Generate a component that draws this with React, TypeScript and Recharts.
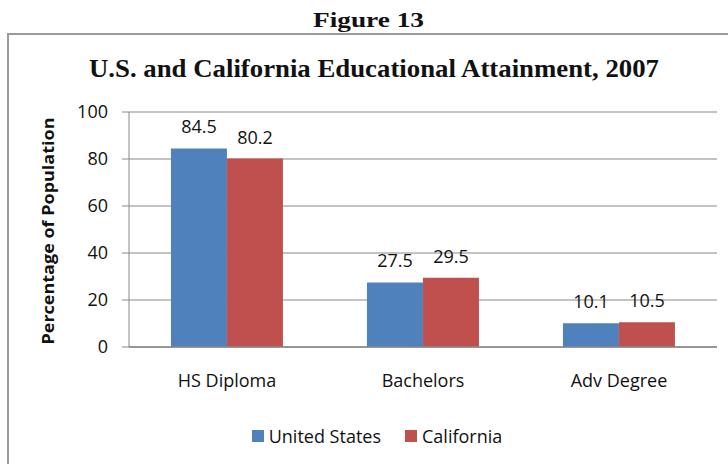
import React from "react";
import { BarChart, Bar, XAxis, YAxis, CartesianGrid, Legend, LabelList } from "recharts";

const categories = ["HS Diploma", "Bachelors", "Adv Degree"];
const unitedStates = [84.5, 27.5, 10.1];
const california = [80.2, 29.5, 10.5];
const yTicks = [0, 20, 40, 60, 80, 100];
const seriesNames = ["United States", "California"];
const colors = ["#4F81BD", "#C0504D"];

const data = categories.map((c, i) => ({ name: c, us: unitedStates[i], ca: california[i] }));

const FONT = "'Open Sans', sans-serif";

const renderLegend = () => {
  return (
    <div style={{ display: "flex", justifyContent: "center", alignItems: "center", fontFamily: FONT, fontSize: 18, color: "#111", height: 24 }}>
      {seriesNames.map((n, i) => (
        <div key={i} style={{ display: "flex", alignItems: "center", marginRight: i === 0 ? 24 : 0 }}>
          <span style={{ display: "inline-block", width: 12, height: 12, background: colors[i], marginRight: 5 }} />
          <span>{n}</span>
        </div>
      ))}
    </div>
  );
};

export default function App() {
  return (
    <div style={{ position: "absolute", left: 0, top: 0, width: 728, height: 464, background: "#fff", overflow: "hidden" }}>
      <div style={{ position: "absolute", left: 7, top: 33, width: 800, height: 500, border: "2px solid #9a9a9a", boxSizing: "border-box" }} />
      <svg style={{ position: "absolute", left: 0, top: 0 }} width={728} height={464}>
        <text x={313} y={27} textLength={111} lengthAdjust="spacingAndGlyphs" fontFamily="'Liberation Serif', serif" fontWeight="bold" fontSize={22} fill="#111">Figure 13</text>
        <text x={89} y={77} textLength={570} lengthAdjust="spacingAndGlyphs" fontFamily="'Liberation Serif', serif" fontWeight="bold" fontSize={25} fill="#111">U.S. and California Educational Attainment, 2007</text>
        <text transform="translate(54,231) rotate(-90)" textAnchor="middle" textLength={227} lengthAdjust="spacingAndGlyphs" fontFamily={FONT} fontWeight="bold" fontSize={16} fill="#111">Percentage of Population</text>
      </svg>
      <div style={{ position: "absolute", left: 0, top: 0 }}>
        <BarChart width={728} height={464} data={data} margin={{ top: 112, right: 11, bottom: 63, left: 0 }} barCategoryGap="21.4%" barGap={0}>
          <CartesianGrid vertical={false} stroke="#888" strokeWidth={1} />
          <XAxis dataKey="name" tickLine={false} tickSize={0} tickMargin={27} axisLine={{ stroke: "#888", strokeWidth: 1.5 }} tick={{ fontFamily: FONT, fontSize: 18, fill: "#111" }} />
          <YAxis width={129} domain={[0, 100]} ticks={yTicks} tickSize={7} tickMargin={14} tickLine={{ stroke: "#888" }} axisLine={{ stroke: "#888" }} tick={{ fontFamily: FONT, fontSize: 18, fill: "#111" }} interval={0} />
          <Legend content={renderLegend} wrapperStyle={{ left: 13, width: 728, top: 424 }} />
          <Bar dataKey="us" name={seriesNames[0]} fill={colors[0]} isAnimationActive={false}>
            <LabelList dataKey="us" position="top" offset={15} style={{ fontFamily: FONT, fontSize: 18, fill: "#111" }} />
          </Bar>
          <Bar dataKey="ca" name={seriesNames[1]} fill={colors[1]} isAnimationActive={false}>
            <LabelList dataKey="ca" position="top" offset={15} style={{ fontFamily: FONT, fontSize: 18, fill: "#111" }} />
          </Bar>
        </BarChart>
      </div>
    </div>
  );
}
